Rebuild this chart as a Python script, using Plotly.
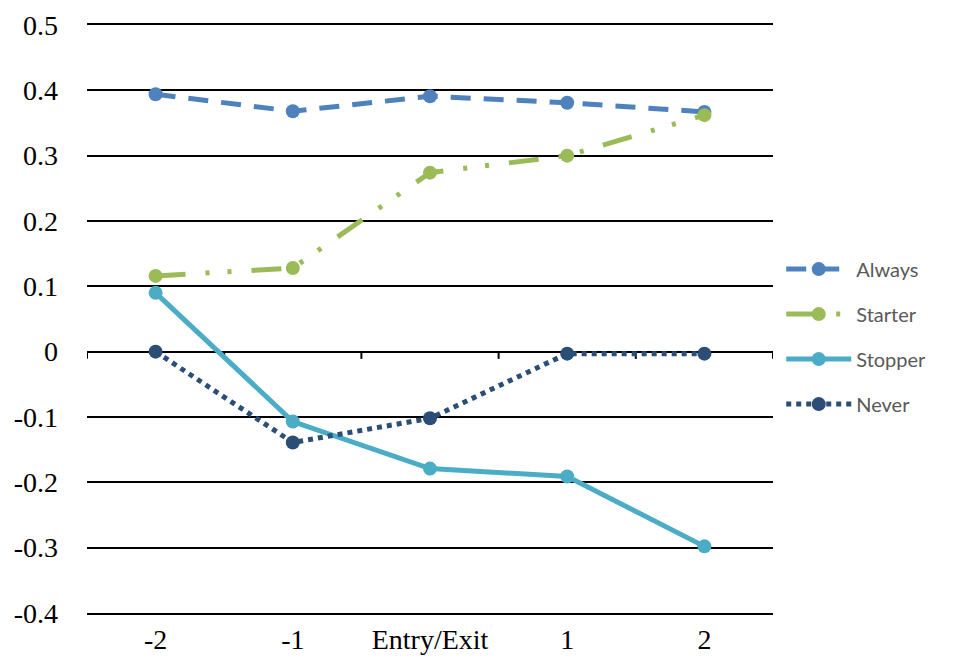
import plotly.graph_objects as go

categories = ["-2", "-1", "Entry/Exit", "1", "2"]
always = [0.394, 0.368, 0.391, 0.381, 0.367]
starter = [0.116, 0.128, 0.274, 0.300, 0.362]
stopper = [0.090, -0.107, -0.179, -0.191, -0.298]
never = [0.000, -0.139, -0.102, -0.003, -0.003]
y_ticks = [0.5, 0.4, 0.3, 0.2, 0.1, 0, -0.1, -0.2, -0.3, -0.4]
y_labels = ["0.5", "0.4", "0.3", "0.2", "0.1", "0", "-0.1", "-0.2", "-0.3", "-0.4"]

SERIF = "Times New Roman, Liberation Serif, serif"

fig = go.Figure()
fig.add_trace(go.Scatter(x=categories, y=always, name="Always", mode="lines+markers",
                         legendgroup="a",
                         line=dict(color="#4F81BD", width=5, dash="20px,13px"),
                         marker=dict(size=14, color="#4F81BD")))
fig.add_trace(go.Scatter(x=categories, y=starter, name="Starter", mode="lines+markers",
                         legendgroup="b",
                         line=dict(color="#9BBB59", width=5, dash="30px,20px,4px,18px,4px,20px"),
                         marker=dict(size=14, color="#9BBB59")))
fig.add_trace(go.Scatter(x=categories, y=stopper, name="Stopper", mode="lines+markers",
                         legendgroup="c",
                         line=dict(color="#4BACC6", width=5),
                         marker=dict(size=14, color="#4BACC6")))
fig.add_trace(go.Scatter(x=categories, y=never, name="Never", mode="lines+markers",
                         legendgroup="d",
                         line=dict(color="#2C4D75", width=5, dash="dot"),
                         marker=dict(size=14, color="#2C4D75")))

# small tick marks below the zero line at category boundaries
shapes = []
for i in range(len(categories) + 1):
    xb = i - 0.5
    shapes.append(dict(type="line", xref="x", yref="y", x0=xb, x1=xb, y0=0, y1=-0.011,
                       line=dict(color="black", width=2), layer="below"))

fig.update_layout(
    width=938, height=647,
    margin=dict(l=79, r=173, t=17, b=42),
    paper_bgcolor="white", plot_bgcolor="white",
    font=dict(family=SERIF, size=28, color="#000000"),
    shapes=shapes,
    showlegend=True,
    legend=dict(x=1.012, y=0.618, xanchor="left", yanchor="top",
                font=dict(family="Lato", size=20, color="#595959"),
                itemwidth=65, tracegroupgap=16, bgcolor="rgba(0,0,0,0)"),
    xaxis=dict(type="category", range=[-0.5, 4.5], showgrid=False,
               showline=True, mirror=True, linecolor="black", linewidth=2,
               zeroline=False, ticks="", automargin=False,
               tickfont=dict(family=SERIF, size=28)),
    yaxis=dict(range=[-0.4, 0.5], tickvals=y_ticks, ticktext=y_labels, showgrid=True,
               gridcolor="black", gridwidth=2, zeroline=True, zerolinecolor="black",
               zerolinewidth=2, showline=False, ticks="", ticklabelstandoff=28,
               automargin=False, tickfont=dict(family=SERIF, size=28)),
)

fig.write_html("out.html")
